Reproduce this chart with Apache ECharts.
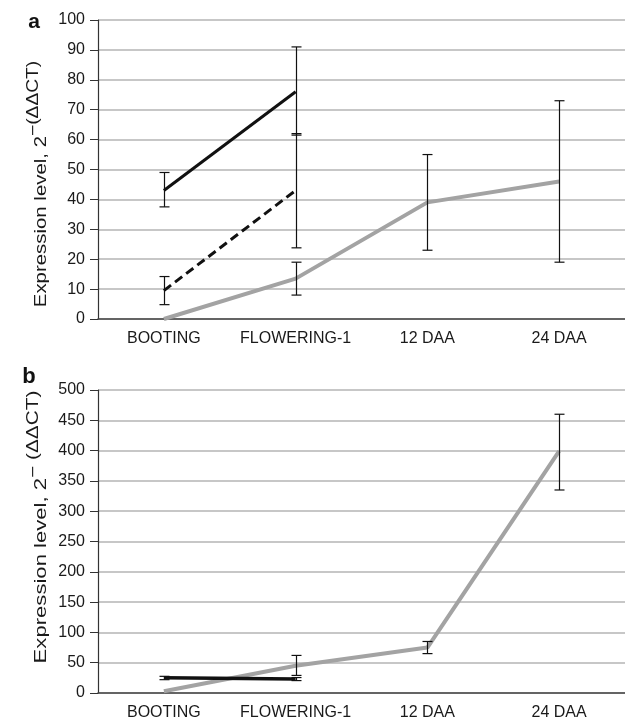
<!DOCTYPE html>
<html><head><meta charset="utf-8">
<script src="https://cdn.jsdelivr.net/npm/echarts@6/dist/echarts.min.js"></script>
<style>html,body{margin:0;padding:0;background:#fff}#c{width:625px;height:722px}</style>
</head><body><div id="c"></div>
<script>
// ---- data ----
const categories = ['BOOTING', 'FLOWERING-1', '12 DAA', '24 DAA'];
const yTicksA = [0, 100, 10];   // min, max, interval
const yTicksB = [0, 500, 50];
// panel a
const aSolid = [43, 76, null, null];
const aSolidLow = [37.5, 61.5, null, null];
const aSolidHigh = [49, 91, null, null];
const aDashed = [9.5, 43, null, null];
const aDashedLow = [4.8, 23.8, null, null];
const aDashedHigh = [14.2, 62, null, null];
const aGray = [0, 13.5, 39, 46];
const aGrayLow = [null, 8, 23, 19];
const aGrayHigh = [null, 19, 55, 73];
// panel b
const bSolid = [25, 23, null, null];
const bSolidLow = [22, 20.5, null, null];
const bSolidHigh = [27.5, 25.5, null, null];
const bGray = [3, 45, 75, 399];
const bGrayLow = [null, 29, 65, 335];
const bGrayHigh = [null, 62, 85, 460];

const FONT = '"Liberation Sans", Arial, sans-serif';

function errData(low, high) {
  const out = [];
  for (let i = 0; i < low.length; i++) {
    if (low[i] != null && high[i] != null) out.push([i, low[i], high[i]]);
  }
  return out;
}
function errRender(params, api) {
  const c1 = api.coord([api.value(0), api.value(1)]);
  const c2 = api.coord([api.value(0), api.value(2)]);
  const x = Math.round(c1[0]) + 0.5;
  const hw = 5;
  const st = { stroke: '#111', lineWidth: 1.2 };
  return {
    type: 'group',
    children: [
      { type: 'line', shape: { x1: x, y1: c1[1], x2: x, y2: c2[1] }, style: st },
      { type: 'line', shape: { x1: x - hw, y1: c1[1], x2: x + hw, y2: c1[1] }, style: st },
      { type: 'line', shape: { x1: x - hw, y1: c2[1], x2: x + hw, y2: c2[1] }, style: st }
    ]
  };
}
function errSeries(idx, low, high) {
  return { type: 'custom', xAxisIndex: idx, yAxisIndex: idx, renderItem: errRender,
           data: errData(low, high), z: 10, silent: true };
}
function lineSeries(idx, data, color, width, type) {
  return { type: 'line', xAxisIndex: idx, yAxisIndex: idx, data: data, showSymbol: false,
           symbol: 'none', connectNulls: false, silent: true, z: 3,
           lineStyle: { color: color, width: width, type: type || 'solid' } };
}
function xAx(idx) {
  return { type: 'category', gridIndex: idx, data: categories, boundaryGap: true,
    axisTick: { show: false },
    axisLine: { lineStyle: { color: '#444', width: 1.5 } },
    axisLabel: { color: '#1a1a1a', fontSize: 16, fontFamily: FONT, margin: 12, interval: 0 } };
}
function yAx(idx, t) {
  return { type: 'value', gridIndex: idx, min: t[0], max: t[1], interval: t[2],
    axisLine: { show: true, lineStyle: { color: '#333', width: 1.2 } },
    axisTick: { show: true, length: 8, lineStyle: { color: '#333' } },
    splitLine: { lineStyle: { color: '#b5b5b5', width: 1.5 } },
    axisLabel: { color: '#1a1a1a', fontSize: 16, fontFamily: FONT, margin: 13 } };
}
function yTitle(x, y, sx, sup) {
  return { type: 'text', x: x, y: y, rotation: Math.PI / 2, scaleX: sx, scaleY: 1,
    style: {
      text: '{m|Expression level, 2}{s|' + sup + '}',
      align: 'center', verticalAlign: 'middle', fill: '#1a1a1a', font: '17px ' + FONT,
      rich: {
        m: { fontSize: 17, fontFamily: FONT, fill: '#1a1a1a', verticalAlign: 'bottom' },
        s: { fontSize: 16, fontFamily: FONT, fill: '#1a1a1a', padding: [0, 0, 8, 0] }
      }
    } };
}

const chart = echarts.init(document.getElementById('c'), null, { renderer: 'canvas' });
chart.setOption({
  animation: false,
  backgroundColor: '#fff',
  grid: [
    { left: 98, top: 20, width: 532, height: 299 },
    { left: 98, top: 390, width: 532, height: 303 }
  ],
  xAxis: [xAx(0), xAx(1)],
  yAxis: [yAx(0, yTicksA), yAx(1, yTicksB)],
  graphic: [
    { type: 'text', x: 34, y: 22, style: { text: 'a', font: 'bold 21px ' + FONT, fill: '#111', align: 'center', verticalAlign: 'middle' } },
    { type: 'text', x: 29, y: 377, style: { text: 'b', font: 'bold 22px ' + FONT, fill: '#111', align: 'center', verticalAlign: 'middle' } },
    yTitle(38, 184, 1.2, '\u2212(\u0394\u0394CT)'),
    yTitle(38, 527, 1.3, '\u2212 (\u0394\u0394CT)')
  ],
  series: [
    lineSeries(0, aGray, '#a3a3a3', 4),
    lineSeries(0, aSolid, '#111', 3),
    lineSeries(0, aDashed, '#111', 3, [9, 5]),
    errSeries(0, aSolidLow, aSolidHigh),
    errSeries(0, aDashedLow, aDashedHigh),
    errSeries(0, aGrayLow, aGrayHigh),
    lineSeries(1, bGray, '#a3a3a3', 4),
    lineSeries(1, bSolid, '#111', 3.5),
    errSeries(1, bSolidLow, bSolidHigh),
    errSeries(1, bGrayLow, bGrayHigh)
  ]
});
</script></body></html>
